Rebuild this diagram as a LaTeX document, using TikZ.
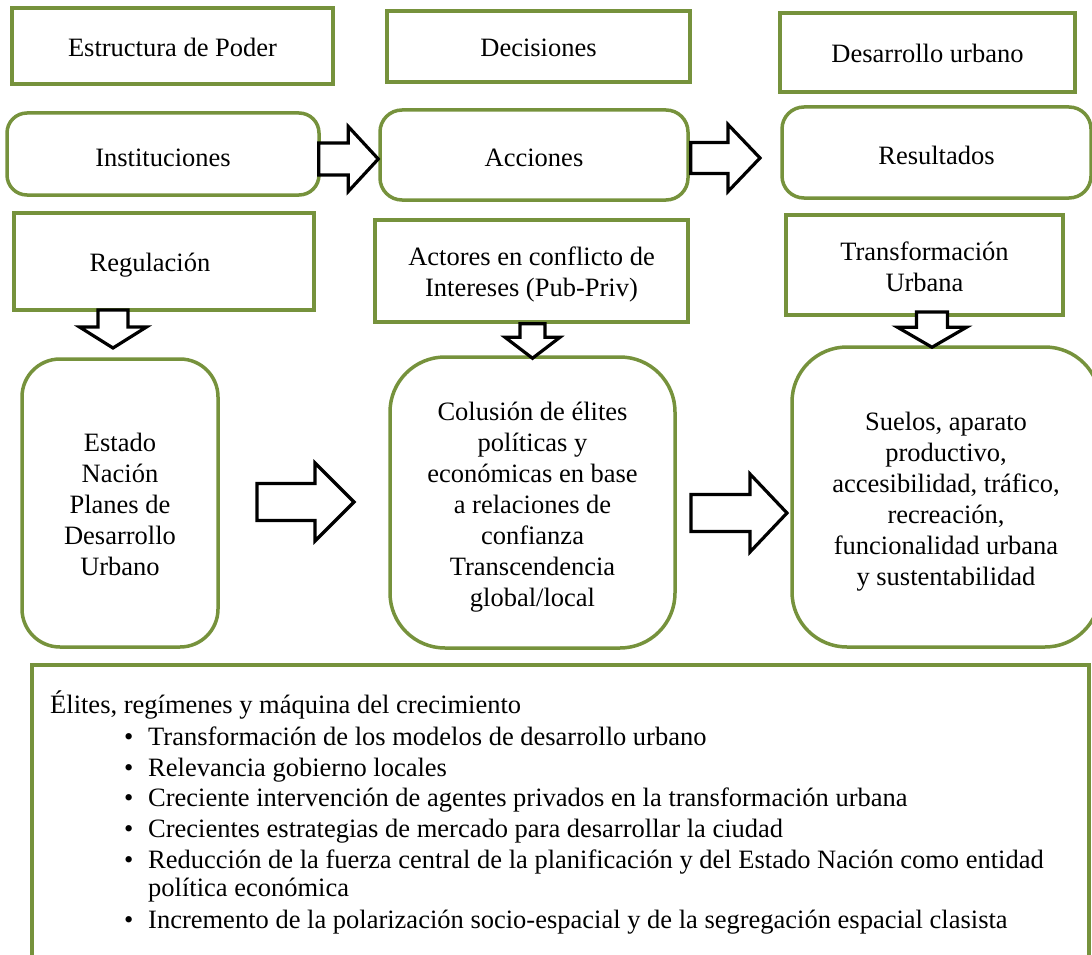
\documentclass[tikz,border=0pt]{standalone}
\usepackage{fontspec}
\setmainfont{Liberation Serif}
\usetikzlibrary{calc}
\definecolor{olivegreen}{RGB}{118,146,60}
\tikzset{
  box/.style={draw=olivegreen, line width=3.5pt, inner sep=0pt, fill=white},
  rbox/.style={box, rounded corners=#1},
  txt/.style={inner sep=0pt, align=center, font=\fontsize{26.5}{31}\selectfont},
  blockarr/.style={draw=black, line width=3.2pt, fill=white, line join=miter},
  listtext/.style={anchor=base west, inner sep=0pt, font=\fontsize{26.5}{31}\selectfont},
}
% horizontal block arrow: start, tip, shaft half width, head half width, head length
\newcommand{\hblock}[5]{%
  \draw[blockarr] let \p1=(#1), \p2=(#2) in
    (\x1,\y2-#3) -- (\x2-#5,\y2-#3) -- (\x2-#5,\y2-#4) -- (\x2,\y2) --
    (\x2-#5,\y2+#4) -- (\x2-#5,\y2+#3) -- (\x1,\y2+#3) -- cycle;}
% vertical (downward) block arrow: start, tip, shaft half width, head half width, head length
\newcommand{\vblock}[5]{%
  \draw[blockarr] let \p1=(#1), \p2=(#2) in
    (\x2-#3,\y1) -- (\x2-#3,\y2+#5) -- (\x2-#4,\y2+#5) -- (\x2,\y2) --
    (\x2+#4,\y2+#5) -- (\x2+#3,\y2+#5) -- (\x2+#3,\y1) -- cycle;}
\begin{document}
\begin{tikzpicture}[x=1pt,y=-1pt]
\useasboundingbox (0,0) rectangle (1092,955);

% top row
\node[box, minimum width=321pt, minimum height=76pt] (epod) at (172.5,46) {};
\node[box, minimum width=303pt, minimum height=71pt] (dec) at (538.5,46.5) {};
\node[box, minimum width=295pt, minimum height=79pt] (dur) at (927.5,52.5) {};
\node[txt] (epodt) at ($(epod)+(0,1.5)$) {Estructura de Poder};
\node[txt] (dect) at ($(dec)+(0,1.5)$) {Decisiones};
\node[txt] (durt) at ($(dur)+(0,0.5)$) {Desarrollo urbano};

% second row
\node[rbox=20pt, minimum width=312pt, minimum height=82pt] (inst) at (163,154) {};
\node[rbox=22pt, minimum width=308pt, minimum height=90pt] (acc) at (534,155) {};
\node[rbox=22pt, minimum width=309pt, minimum height=91pt] (res) at (936.5,152.5) {};
\node[txt] (instt) at ($(inst)+(0,4)$) {Instituciones};
\node[txt] (acct) at ($(acc)+(0,2.5)$) {Acciones};
\node[txt] (rest) at ($(res)+(0,3)$) {Resultados};

% third row
\node[box, minimum width=300pt, minimum height=97pt] (reg) at (164,261.5) {};
\node[box, minimum width=313pt, minimum height=102pt] (act) at (531.5,271) {};
\node[box, minimum width=277pt, minimum height=100pt] (tra) at (924.5,265) {};
\node[txt] (regt) at ($(reg)+(-14,3.5)$) {Regulación};
\node[txt] (actt) at ($(act)+(0,3)$) {Actores en conflicto de\\Intereses (Pub-Priv)};
\node[txt] (trat) at ($(tra)+(0,1.5)$) {Transformación\\Urbana};

% fourth row
\node[rbox=38pt, minimum width=196pt, minimum height=288pt] (est) at (120,503) {};
\node[rbox=55pt, minimum width=285pt, minimum height=291pt] (col) at (532.5,502.5) {};
\node[rbox=55pt, minimum width=308pt, minimum height=300pt] (sue) at (946,497) {};
\node[txt] (estt) at ($(est)+(0,1.5)$) {Estado\\Nación\\Planes de\\Desarrollo\\Urbano};
\node[txt] (colt) at ($(col)+(0,5)$)
  {Colusión de élites\\políticas y\\económicas en base\\a relaciones de\\confianza\\Transcendencia\\global/local};
\node[txt] (suet) at ($(sue)+(0,5)$)
  {Suelos, aparato\\productivo,\\accesibilidad, tráfico,\\recreación,\\funcionalidad urbana\\y sustentabilidad};

% arrow coordinates
\coordinate (a1s) at ($(inst.east)+(-2,5)$);
\coordinate (a1t) at ($(acc.west)+(0,4)$);
\coordinate (a2s) at ($(acc.east)+(1,3)$);
\coordinate (a2t) at (760,158);
\coordinate (d1s) at (113,310);
\coordinate (d1t) at (113,348);
\coordinate (d2s) at ($(act.south)+(1,0)$);
\coordinate (d2t) at ($(col.north)+(0,3)$);
\coordinate (d3s) at (932,312);
\coordinate (d3t) at ($(sue.north)+(-14,2)$);
\coordinate (bas) at (257,502);
\coordinate (bat) at (354,502);
\coordinate (bbs) at (691,513);
\coordinate (bbt) at (787,513);

\hblock{a1s}{a1t}{16pt}{32.5pt}{30pt}
\hblock{a2s}{a2t}{15.5pt}{33.5pt}{32pt}
\vblock{d1s}{d1t}{15pt}{33.5pt}{21pt}
\vblock{d2s}{d2t}{12.5pt}{27.5pt}{21pt}
\vblock{d3s}{d3t}{15.5pt}{34.5pt}{20pt}
\hblock{bas}{bat}{18.5pt}{39pt}{39pt}
\hblock{bbs}{bbt}{18.5pt}{39pt}{37pt}

% bottom box
\node[box, minimum width=1057pt, minimum height=310pt, anchor=north west] (elit) at (30,663) {};
\node[listtext] (t0) at (50,713) {Élites, regímenes y máquina del crecimiento};
\node[listtext] (b1) at (124,745) {•};
\node[listtext] (t1) at (148,745) {Transformación de los modelos de desarrollo urbano};
\node[listtext] (b2) at (124,776) {•};
\node[listtext] (t2) at (148,776) {Relevancia gobierno locales};
\node[listtext] (b3) at (124,806) {•};
\node[listtext] (t3) at (148,806) {Creciente intervención de agentes privados en la transformación urbana};
\node[listtext] (b4) at (124,837) {•};
\node[listtext] (t4) at (148,837) {Crecientes estrategias de mercado para desarrollar la ciudad};
\node[listtext] (b5) at (124,868) {•};
\node[listtext] (t5) at (148,868) {Reducción de la fuerza central de la planificación y del Estado Nación como entidad};
\node[listtext] (t5b) at (148,896) {política económica};
\node[listtext] (b6) at (124,928) {•};
\node[listtext] (t6) at (148,928) {Incremento de la polarización socio-espacial y de la segregación espacial clasista};
\end{tikzpicture}
\end{document}
